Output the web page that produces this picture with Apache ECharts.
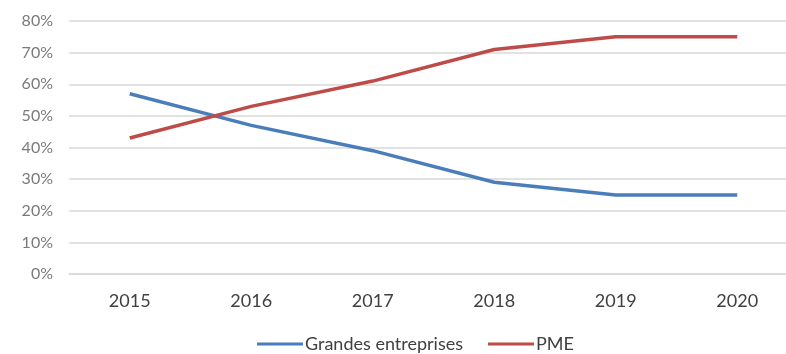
<!DOCTYPE html>
<html><head><meta charset="utf-8">
<script src="https://cdn.jsdelivr.net/npm/echarts@6/dist/echarts.min.js"></script>
<style>html,body{margin:0;padding:0;background:#fff}#c{width:786px;height:354px}</style>
</head><body><div id="c"></div>
<script>
const categories = ['2015','2016','2017','2018','2019','2020'];
const grandesEntreprises = [57, 47, 39, 29, 25, 25];
const pme = [43, 53, 61, 71, 75, 75];
const seriesNames = ['Grandes entreprises', 'PME'];

const chart = echarts.init(document.getElementById('c'));
chart.setOption({
  animation: false,
  textStyle: { fontFamily: 'Lato, sans-serif' },
  grid: { left: 69, width: 729, top: 21, height: 253, outerBoundsMode: 'none', containLabel: false },
  legend: {
    data: seriesNames, top: 335, left: 257, padding: 0, itemWidth: 46, itemHeight: 3, itemGap: 25,
    icon: 'rect',
    textStyle: { color: '#404040', fontSize: 18, fontFamily: 'Lato, sans-serif', padding: [0, 0, 0, -3] }
  },
  xAxis: {
    type: 'category', data: categories, boundaryGap: true,
    axisLine: { show: true, lineStyle: { color: '#d9d9d9', width: 1.5 } },
    axisTick: { show: false },
    axisLabel: { color: '#404040', fontSize: 18, margin: 18 }
  },
  yAxis: {
    type: 'value', min: 0, max: 80, interval: 10,
    axisLabel: { formatter: '{value}%', color: '#7a7a7a', fontSize: 16, margin: 16 },
    axisLine: { show: false }, axisTick: { show: false },
    splitLine: { lineStyle: { color: '#d9d9d9', width: 1.5 } }
  },
  series: [
    { name: seriesNames[0], type: 'line', data: grandesEntreprises, symbol: 'none',
      lineStyle: { color: '#4a7ebb', width: 3.5 }, itemStyle: { color: '#4a7ebb' } },
    { name: seriesNames[1], type: 'line', data: pme, symbol: 'none',
      lineStyle: { color: '#be4b48', width: 3.5 }, itemStyle: { color: '#be4b48' } }
  ]
});
</script></body></html>
